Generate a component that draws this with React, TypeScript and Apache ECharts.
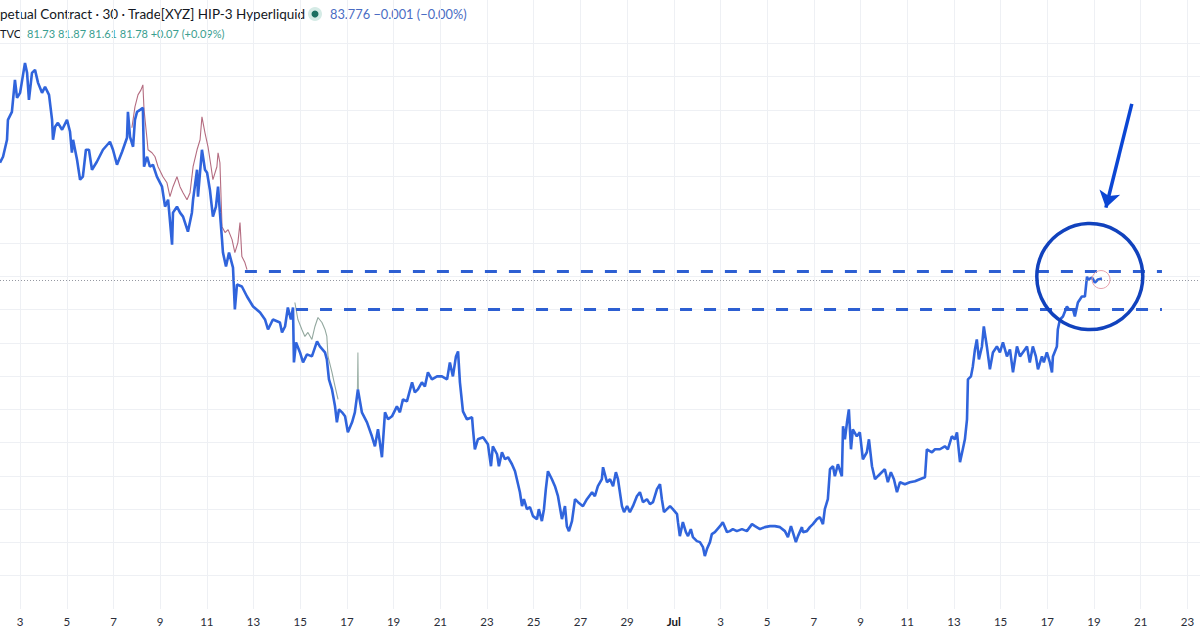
import React, { useEffect, useRef } from "react";
import * as echarts from "echarts";

// x = day counted from 1 June (31 = 1 Jul), y = price
const dayTicks = [3, 5, 7, 9, 11, 13, 15, 17, 19, 21, 23, 25, 27, 29, 31, 33, 35, 37, 39, 41, 43, 45, 47, 49, 51, 53];
const gridValues = [73, 74, 75, 76, 77, 78, 79, 80, 81, 82, 83, 84, 85, 86, 87, 88, 89];

const perpLine: [number, number][] = [
  [2.14, 85.41], [2.27, 85.59], [2.44, 86.1], [2.48, 86.7], [2.65, 86.94], [2.78, 87.9], [2.87, 87.36], [3.0, 87.51],
  [3.21, 88.41], [3.3, 88.11], [3.38, 87.3], [3.51, 88.11], [3.64, 88.2], [3.77, 87.81], [3.94, 87.51], [4.07, 87.69],
  [4.24, 87.45], [4.37, 86.7], [4.41, 86.1], [4.5, 86.49], [4.62, 86.61], [4.8, 86.4], [5.01, 86.7], [5.14, 86.34],
  [5.22, 85.71], [5.27, 86.1], [5.44, 85.5], [5.57, 84.9], [5.69, 84.99], [5.82, 85.8], [5.95, 85.8], [6.08, 85.2],
  [6.29, 85.44], [6.55, 85.8], [6.85, 86.04], [6.98, 85.8], [7.15, 85.35], [7.37, 85.74], [7.58, 86.16], [7.62, 86.94],
  [7.71, 86.19], [7.84, 85.89], [7.92, 86.7], [8.01, 86.94], [8.14, 87.0], [8.26, 87.06], [8.31, 85.29], [8.44, 85.59],
  [8.56, 85.29], [8.69, 85.35], [8.86, 84.99], [9.08, 84.69], [9.21, 84.09], [9.34, 84.3], [9.51, 82.95], [9.55, 83.91],
  [9.72, 84.09], [9.85, 83.91], [9.98, 83.79], [10.19, 83.34], [10.36, 83.91], [10.41, 84.3], [10.58, 85.2], [10.62, 84.39],
  [10.79, 85.8], [10.92, 85.2], [11.01, 85.11], [11.13, 84.6], [11.26, 83.79], [11.39, 84.09], [11.48, 84.69], [11.56, 83.91],
  [11.65, 83.1], [11.69, 82.71], [11.82, 82.29], [11.95, 82.71], [12.12, 82.26], [12.2, 81.0], [12.29, 81.75], [12.5, 81.69],
  [12.72, 81.39], [12.98, 81.09], [13.28, 80.91], [13.49, 80.7], [13.62, 80.4], [13.83, 80.7], [14.13, 80.61], [14.22, 80.31],
  [14.35, 80.49], [14.47, 81.06], [14.6, 80.7], [14.69, 81.06], [14.73, 79.41], [14.82, 80.01], [14.99, 79.71], [15.12, 79.41],
  [15.29, 79.65], [15.5, 79.59], [15.72, 80.04], [15.84, 79.89], [16.06, 79.71], [16.14, 79.5], [16.23, 78.9], [16.36, 78.6],
  [16.49, 78.09], [16.57, 77.61], [16.66, 78.0], [16.79, 77.91], [16.92, 77.79], [17.04, 77.31], [17.22, 77.61], [17.34, 77.91],
  [17.47, 78.6], [17.64, 77.91], [17.86, 77.61], [18.07, 77.19], [18.2, 76.89], [18.33, 77.4], [18.5, 76.56], [18.63, 77.91],
  [18.76, 77.7], [18.93, 77.79], [19.14, 78.09], [19.27, 77.91], [19.4, 78.3], [19.57, 78.24], [19.79, 78.81], [19.91, 78.51],
  [20.04, 78.6], [20.21, 78.81], [20.34, 78.69], [20.47, 79.11], [20.64, 78.9], [20.86, 78.99], [21.07, 78.99], [21.29, 78.9],
  [21.41, 79.41], [21.54, 78.99], [21.67, 79.59], [21.76, 79.74], [21.84, 78.81], [21.97, 77.94], [22.14, 77.7], [22.36, 77.76],
  [22.4, 77.4], [22.48, 76.8], [22.61, 77.1], [22.83, 77.16], [23.04, 76.95], [23.17, 76.29], [23.25, 76.89], [23.43, 76.65],
  [23.51, 76.29], [23.64, 76.71], [23.77, 76.5], [23.9, 76.56], [24.07, 76.35], [24.2, 76.14], [24.28, 75.9], [24.41, 75.51],
  [24.5, 75.09], [24.58, 75.3], [24.71, 75.0], [24.84, 75.06], [24.97, 74.79], [25.14, 74.7], [25.22, 75.0], [25.35, 74.64],
  [25.44, 75.0], [25.52, 75.6], [25.61, 76.14], [25.78, 75.9], [25.91, 75.69], [26.04, 75.39], [26.21, 74.7], [26.34, 75.09],
  [26.42, 74.49], [26.51, 74.34], [26.64, 74.64], [26.77, 75.3], [26.9, 75.21], [27.11, 75.09], [27.28, 75.3], [27.5, 75.51],
  [27.62, 75.39], [27.75, 75.69], [27.92, 75.9], [27.97, 76.26], [28.14, 75.81], [28.27, 75.9], [28.4, 75.69], [28.52, 76.11],
  [28.61, 75.9], [28.78, 75.09], [28.87, 74.91], [29.0, 75.09], [29.12, 74.91], [29.25, 75.09], [29.42, 75.39], [29.55, 75.51],
  [29.68, 75.21], [29.85, 75.3], [29.98, 75.15], [30.11, 75.21], [30.28, 75.6], [30.41, 75.75], [30.49, 75.3], [30.58, 74.91],
  [30.71, 75.0], [30.84, 75.09], [30.96, 75.0], [31.14, 74.85], [31.18, 74.61], [31.26, 74.19], [31.39, 74.61], [31.52, 74.31],
  [31.61, 74.19], [31.73, 74.4], [31.82, 74.16], [31.99, 74.04], [32.12, 74.01], [32.25, 73.86], [32.33, 73.59], [32.42, 73.8],
  [32.55, 74.01], [32.63, 74.25], [32.76, 74.31], [32.98, 74.49], [33.1, 74.61], [33.28, 74.31], [33.4, 74.34], [33.53, 74.4],
  [33.7, 74.34], [33.92, 74.4], [34.13, 74.34], [34.35, 74.55], [34.48, 74.49], [34.69, 74.4], [34.9, 74.46], [35.12, 74.49],
  [35.33, 74.49], [35.55, 74.46], [35.76, 74.34], [35.89, 74.16], [36.02, 74.49], [36.1, 74.31], [36.23, 74.01], [36.32, 74.19],
  [36.49, 74.46], [36.53, 74.31], [36.7, 74.34], [36.83, 74.46], [36.96, 74.55], [37.13, 74.7], [37.26, 74.76], [37.39, 74.55],
  [37.47, 75.0], [37.56, 75.21], [37.6, 75.3], [37.69, 76.2], [37.82, 76.29], [37.9, 75.99], [38.03, 76.35], [38.2, 75.99],
  [38.25, 77.49], [38.33, 77.1], [38.42, 77.61], [38.5, 78.0], [38.59, 76.8], [38.67, 77.4], [38.84, 77.19], [38.97, 77.31],
  [39.1, 76.5], [39.27, 76.71], [39.36, 77.1], [39.49, 76.29], [39.62, 75.9], [39.74, 75.99], [39.91, 76.11], [40.04, 76.2],
  [40.17, 75.81], [40.3, 76.11], [40.43, 75.9], [40.56, 75.51], [40.69, 75.81], [40.9, 75.75], [41.11, 75.81], [41.33, 75.84],
  [41.54, 75.9], [41.76, 75.96], [41.84, 76.8], [42.06, 76.71], [42.19, 76.8], [42.4, 76.8], [42.61, 76.89], [42.74, 76.8],
  [42.91, 77.19], [43.04, 77.1], [43.13, 77.31], [43.26, 76.41], [43.38, 76.8], [43.47, 77.1], [43.56, 77.7], [43.6, 78.9],
  [43.73, 78.99], [43.81, 79.29], [43.9, 79.8], [43.98, 80.1], [44.07, 79.5], [44.2, 79.89], [44.28, 80.49], [44.41, 79.89],
  [44.54, 79.2], [44.67, 79.71], [44.84, 79.89], [44.97, 79.71], [45.1, 80.01], [45.27, 79.59], [45.4, 79.8], [45.53, 79.11],
  [45.7, 79.89], [45.83, 79.59], [45.95, 79.71], [46.13, 79.89], [46.25, 79.41], [46.38, 79.89], [46.51, 79.59], [46.6, 79.2],
  [46.77, 79.59], [46.85, 79.41], [46.98, 79.71], [47.11, 79.41], [47.2, 79.11], [47.24, 79.59], [47.41, 79.89], [47.45, 80.4],
  [47.54, 80.7], [47.67, 80.79], [47.84, 81.09], [47.93, 81.0], [48.1, 81.0], [48.18, 80.79], [48.31, 81.21], [48.48, 81.39],
  [48.61, 81.39], [48.7, 81.99], [48.74, 81.9], [48.91, 81.96], [49.04, 81.81], [49.17, 81.9], [49.34, 81.93],
];

const tvcEarly: [number, number][] = [
  [7.79, 86.46], [7.92, 87.09], [8.05, 87.45], [8.18, 87.6], [8.26, 87.75], [8.31, 87.0], [8.44, 86.1], [8.48, 85.8],
  [8.65, 85.71], [8.78, 85.59], [8.91, 85.29], [9.12, 84.99], [9.29, 84.81], [9.42, 84.39], [9.55, 84.69], [9.72, 84.99],
  [9.85, 84.69], [9.98, 84.51], [10.15, 84.3], [10.28, 84.51], [10.41, 85.29], [10.58, 85.8], [10.71, 86.1], [10.79, 86.79],
  [10.92, 86.31], [11.05, 85.89], [11.18, 85.29], [11.26, 84.9], [11.43, 85.29], [11.48, 85.71], [11.56, 85.41], [11.65, 83.49],
  [11.78, 83.31], [11.91, 83.4], [12.08, 83.1], [12.2, 82.71], [12.33, 83.01], [12.42, 83.61], [12.5, 82.59], [12.63, 82.41],
  [12.72, 82.2],
];
const tvcLater: [number, number][] = [
  [14.77, 81.21], [14.9, 80.7], [15.07, 80.4], [15.2, 80.19], [15.33, 80.31], [15.5, 80.1], [15.63, 80.49], [15.76, 80.76],
  [15.93, 80.61], [16.06, 80.4], [16.14, 80.19], [16.19, 79.59], [16.36, 79.11], [16.49, 78.69], [16.62, 78.3],
];
const tvcSpike: [number, number][] = [[17.45, 78.6], [17.47, 79.71], [17.49, 78.6]];

const resistance = { level: 82.15, from: 12.63, to: 51.91 };
const support = { level: 81.02, from: 14.82, to: 51.91 };
const lastPrice = 81.88;
const highlight = { day: 48.82, price: 81.99 };
const lastPoint = { day: 49.3, price: 81.9 };
const arrowFrom = { day: 50.62, price: 87.18 };
const arrowTo = { day: 49.51, price: 84.06 };

const xMin = 2.14;
const xMax = 53.54;

const headerTitle = "petual Contract · 30 · Trade[XYZ] HIP-3 Hyperliquid";
const headerQuote = "83.776 \u22120.001 (\u22120.00%)";
const tvcLabel = "TVC";
const tvcQuote = "81.73 81.87 81.61 81.78 +0.07 (+0.09%)";

const FONT = "Lato, 'Noto Sans', sans-serif";

function dayLabel(v: number): string {
  const d = Math.round(v);
  if (d === 31) return "{b|Jul}";
  return String(d > 31 ? d - 30 : d);
}

function thinLine(name: string, data: [number, number][], color: string) {
  return {
    name,
    type: "line",
    data,
    showSymbol: false,
    symbol: "none",
    z: 1,
    silent: true,
    lineStyle: { color, width: 1.1 },
  };
}

export default function App() {
  const ref = useRef<HTMLDivElement>(null);
  useEffect(() => {
    if (!ref.current) return;
    const chart = echarts.init(ref.current, undefined, { renderer: "svg" });
    const option: any = {
      animation: false,
      backgroundColor: "#ffffff",
      grid: { left: 0, right: 0, top: 0, bottom: 19, containLabel: false },
      xAxis: {
        type: "value",
        min: xMin,
        max: xMax,
        axisLine: { show: false },
        axisTick: { show: false, customValues: dayTicks },
        splitLine: { show: true, lineStyle: { color: "#eef0f4", width: 1 } },
        axisLabel: {
          customValues: dayTicks,
          formatter: dayLabel,
          color: "#2a2e39",
          fontSize: 11.5,
          fontFamily: FONT,
          margin: 6,
          rich: { b: { fontWeight: "bold", color: "#131722", fontSize: 11.5, fontFamily: FONT } },
        },
      },
      yAxis: {
        type: "value",
        min: 72,
        max: 90.3,
        axisLine: { show: false },
        axisTick: { show: false, customValues: gridValues },
        axisLabel: { show: false, customValues: gridValues },
        splitLine: { show: true, lineStyle: { color: "#eef0f4", width: 1 } },
      },
      series: [
        thinLine("TVC a", tvcEarly, "#b46c80"),
        thinLine("TVC b", tvcLater, "#93a89f"),
        thinLine("TVC c", tvcSpike, "#9fb3a9"),
        {
          name: "Perp",
          type: "line",
          data: perpLine,
          showSymbol: false,
          symbol: "none",
          z: 3,
          lineStyle: { color: "#3064dc", width: 2.6 },
          silent: true,
          markLine: {
            silent: true,
            symbol: ["none", "none"],
            label: { show: false },
            data: [
              [
                { coord: [resistance.from, resistance.level], lineStyle: { color: "#2d5fd2", width: 3, type: [12, 12] } },
                { coord: [resistance.to, resistance.level] },
              ],
              [
                { coord: [support.from, support.level], lineStyle: { color: "#2d5fd2", width: 3, type: [12, 12] } },
                { coord: [support.to, support.level] },
              ],
              { yAxis: lastPrice, lineStyle: { color: "#9598a1", width: 1, type: [1, 2] } },
            ],
          },
          markPoint: {
            silent: true,
            label: { show: false },
            data: [
              {
                coord: [highlight.day, highlight.price],
                symbol: "circle",
                symbolSize: 106,
                itemStyle: { color: "rgba(0,0,0,0)", borderColor: "#1142bd", borderWidth: 3.5 },
              },
              {
                coord: [lastPoint.day, lastPoint.price],
                symbol: "circle",
                symbolSize: 18,
                itemStyle: { color: "rgba(0,0,0,0)", borderColor: "#e8a3ae", borderWidth: 1 },
              },
            ],
          },
        },
        {
          name: "Arrow",
          type: "line",
          data: [],
          markLine: {
            silent: true,
            symbol: ["none", "arrow"],
            symbolSize: 16,
            label: { show: false },
            lineStyle: { color: "#0b46d4", width: 3.5, type: "solid" },
            data: [[{ coord: [arrowFrom.day, arrowFrom.price] }, { coord: [arrowTo.day, arrowTo.price] }]],
          },
        },
      ],
      graphic: [
        {
          type: "text",
          x: 0,
          y: 14,
          style: { text: headerTitle, fill: "#131722", fontSize: 13.5, fontFamily: FONT, verticalAlign: "middle" },
        },
        { type: "circle", shape: { cx: 315, cy: 14, r: 7 }, style: { fill: "#d5ebe6" } },
        { type: "circle", shape: { cx: 315, cy: 14, r: 3.5 }, style: { fill: "#1b6f61" } },
        {
          type: "text",
          x: 330,
          y: 14,
          style: { text: headerQuote, fill: "#4a6cc3", fontSize: 12.8, fontFamily: FONT, verticalAlign: "middle" },
        },
        {
          type: "text",
          x: 0,
          y: 33,
          style: { text: tvcLabel, fill: "#131722", fontSize: 11, fontFamily: FONT, verticalAlign: "middle" },
        },
        {
          type: "text",
          x: 27,
          y: 33,
          style: { text: tvcQuote, fill: "#3a9e8f", fontSize: 11, fontFamily: FONT, verticalAlign: "middle" },
        },
      ],
    };
    chart.setOption(option);
    return () => chart.dispose();
  }, []);
  return (
    <div
      ref={ref}
      style={{ position: "absolute", left: 0, top: 0, width: 1200, height: 628, background: "#fff" }}
    />
  );
}
